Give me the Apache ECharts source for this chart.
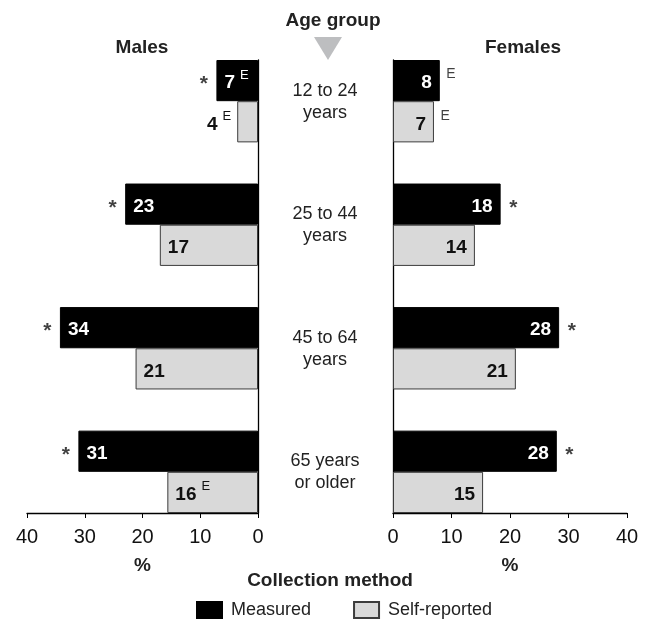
<!DOCTYPE html>
<html>
<head>
<meta charset="utf-8">
<script src="https://cdn.jsdelivr.net/npm/echarts@6/dist/echarts.min.js"></script>
<style>
html,body{margin:0;padding:0;background:#fff;}
#chart{width:648px;height:620px;}
</style>
</head>
<body>
<div id="chart"></div>
<script>
// ---- data ----
const ageGroups = ['12 to 24\nyears', '25 to 44\nyears', '45 to 64\nyears', '65 years\nor older'];
const maleMeasured = [7.2, 23, 34.3, 31.1];
const maleSelf = [3.6, 17, 21.2, 15.7];
const femaleMeasured = [8, 18.4, 28.4, 28];
const femaleSelf = [7, 14, 21, 15.4];
// significance (*) and "use with caution" (E) flags
const maleMeasuredStar = [1, 1, 1, 1];
const femaleMeasuredStar = [0, 1, 1, 1];
const maleMeasuredE = [1, 0, 0, 0];
const maleSelfE = [1, 0, 0, 1];
const femaleMeasuredE = [1, 0, 0, 0];
const femaleSelfE = [1, 0, 0, 0];
const axisMin = 0, axisMax = 40, axisInterval = 10;

const FONT = "'Liberation Sans Narrow', 'Arial Narrow', 'Liberation Sans', Arial, sans-serif";
const BLACK = '#000';
const GRAY = '#d9d9d9';
const BORDER = '#3c3c3c';

// 11 slots per side: measured, self, gap for each age group (last gap dropped)
const slots = [];
ageGroups.forEach((g, i) => { slots.push('m' + i, 's' + i); if (i < ageGroups.length - 1) slots.push('g' + i); });
const slotM = i => 3 * i, slotS = i => 3 * i + 1;

function slotData(values, slotFn, itemFn) {
  const arr = slots.map(() => '-');
  values.forEach((v, i) => { arr[slotFn(i)] = itemFn ? itemFn(v, i) : v; });
  return arr;
}
const rich = (color) => ({
  v: { fontFamily: FONT, fontSize: 19, fontWeight: 'bold', color: color, lineHeight: 24, verticalAlign: 'bottom' },
  e: { fontFamily: FONT, fontSize: 13, color: color, lineHeight: 24, verticalAlign: 'top', padding: [0, 0, 0, 5] }
});
function fmt(eFlags) {
  return p => {
    const i = Math.floor(p.dataIndex / 3);
    const n = Math.round(p.value);
    return eFlags[i] ? '{v|' + n + '}{e|E}' : '{v|' + n + '}';
  };
}

const option = {
  animation: false,
  backgroundColor: '#fff',
  textStyle: { fontFamily: FONT },
  title: [
    { text: 'Age group', left: 328, top: 6, textAlign: 'center', textStyle: { fontFamily: FONT, fontSize: 19, fontWeight: 'bold', color: '#222' } },
    { text: 'Males', left: 137, top: 33, textAlign: 'center', textStyle: { fontFamily: FONT, fontSize: 19, fontWeight: 'bold', color: '#222' } },
    { text: 'Females', left: 518, top: 33, textAlign: 'center', textStyle: { fontFamily: FONT, fontSize: 19, fontWeight: 'bold', color: '#222' } },
    { text: 'Collection method', left: 325, top: 566, textAlign: 'center', textStyle: { fontFamily: FONT, fontSize: 19, fontWeight: 'bold', color: '#222' } }
  ],
  legend: {
    data: ['Measured', 'Self-reported'],
    left: 191, top: 596,
    itemWidth: 25, itemHeight: 16, itemGap: 42,
    icon: 'rect',
    textStyle: { fontFamily: FONT, fontSize: 18, color: '#222', padding: [0, 0, 0, 4] }
  },
  graphic: [
    { type: 'polygon', shape: { points: [[314, 37], [342, 37], [328, 60]] }, style: { fill: '#bdbec0' } }
  ],
  grid: [
    { left: 27, width: 231, top: 60, height: 453 },
    { left: 393, width: 234, top: 60, height: 453 },
    { left: 325, width: 1, top: 40.3, height: 493.5 }
  ],
  xAxis: [0, 1].map(g => ({
    gridIndex: g, type: 'value', min: axisMin, max: axisMax, interval: axisInterval,
    inverse: g === 0,
    name: '%', nameLocation: 'middle', nameGap: 43,
    nameTextStyle: { fontFamily: FONT, fontSize: 19, fontWeight: 'bold', color: '#222' },
    axisLine: { show: true, onZero: false, lineStyle: { color: BLACK, width: 1.3 } },
    axisTick: { show: true, inside: false, length: 5, lineStyle: { color: BLACK } },
    axisLabel: { fontFamily: FONT, fontSize: 20, color: '#111', margin: 14 },
    splitLine: { show: false }
  })).concat([{ gridIndex: 2, type: 'value', show: false, min: 0, max: 1 }]),
  yAxis: [0, 1].map(g => ({
    gridIndex: g, type: 'category', data: slots, inverse: true,
    position: g === 0 ? 'right' : 'left',
    axisLine: { show: true, onZero: false, lineStyle: { color: BLACK, width: 1.3 } },
    axisTick: { show: false }, axisLabel: { show: false }, splitLine: { show: false }
  })).concat([{
    gridIndex: 2, type: 'category', data: ageGroups, inverse: true, position: 'left',
    axisLine: { show: false }, axisTick: { show: false },
    axisLabel: { fontFamily: FONT, fontSize: 18, color: '#222', align: 'center', margin: 0, lineHeight: 22 }
  }]),
  series: [
    {
      name: 'Measured', type: 'bar', xAxisIndex: 0, yAxisIndex: 0,
      barCategoryGap: '0%', barGap: '-100%',
      itemStyle: { color: BLACK, borderColor: BLACK, borderWidth: 1 },
      label: { show: true, position: 'insideLeft', distance: 8, formatter: fmt(maleMeasuredE), rich: rich('#fff') },
      data: slotData(maleMeasured, slotM)
    },
    {
      name: 'Self-reported', type: 'bar', xAxisIndex: 0, yAxisIndex: 0,
      barCategoryGap: '0%', barGap: '-100%',
      itemStyle: { color: GRAY, borderColor: BORDER, borderWidth: 1 },
      label: { show: true, position: 'insideLeft', distance: 8, formatter: fmt(maleSelfE), rich: rich('#111') },
      data: slotData(maleSelf, slotS, (v) => v < 6 ? { value: v, label: { position: 'left', distance: 6 } } : v)
    },
    {
      name: 'Measured', type: 'bar', xAxisIndex: 1, yAxisIndex: 1,
      barCategoryGap: '0%', barGap: '-100%',
      itemStyle: { color: BLACK, borderColor: BLACK, borderWidth: 1 },
      label: { show: true, position: 'insideRight', distance: 8, formatter: fmt([0, 0, 0, 0]), rich: rich('#fff') },
      data: slotData(femaleMeasured, slotM)
    },
    {
      name: 'Self-reported', type: 'bar', xAxisIndex: 1, yAxisIndex: 1,
      barCategoryGap: '0%', barGap: '-100%',
      itemStyle: { color: GRAY, borderColor: BORDER, borderWidth: 1 },
      label: { show: true, position: 'insideRight', distance: 8, formatter: fmt([0, 0, 0, 0]), rich: rich('#111') },
      data: slotData(femaleSelf, slotS)
    },
    // annotations: significance stars
    {
      type: 'scatter', xAxisIndex: 0, yAxisIndex: 0, symbolSize: 1, silent: true,
      itemStyle: { color: 'rgba(0,0,0,0)' },
      label: { show: true, position: 'left', distance: 8, offset: [0, 4], formatter: '*', fontFamily: FONT, fontSize: 21, fontWeight: 'bold', color: '#111' },
      data: maleMeasured.map((v, i) => maleMeasuredStar[i] ? [v, slotM(i)] : null).filter(d => d)
    },
    {
      type: 'scatter', xAxisIndex: 1, yAxisIndex: 1, symbolSize: 1, silent: true,
      itemStyle: { color: 'rgba(0,0,0,0)' },
      label: { show: true, position: 'right', distance: 8, offset: [0, 4], formatter: '*', fontFamily: FONT, fontSize: 21, fontWeight: 'bold', color: '#111' },
      data: femaleMeasured.map((v, i) => femaleMeasuredStar[i] ? [v, slotM(i)] : null).filter(d => d)
    },
    // annotations: E flags outside female bars
    {
      type: 'scatter', xAxisIndex: 1, yAxisIndex: 1, symbolSize: 1, silent: true,
      itemStyle: { color: 'rgba(0,0,0,0)' },
      label: { show: true, position: 'right', distance: 6, offset: [0, -6], formatter: 'E', fontFamily: FONT, fontSize: 14, color: '#111' },
      data: femaleMeasured.map((v, i) => femaleMeasuredE[i] ? [v, slotM(i)] : null).filter(d => d)
        .concat(femaleSelf.map((v, i) => femaleSelfE[i] ? [v, slotS(i)] : null).filter(d => d))
    }
  ]
};

const chart = echarts.init(document.getElementById('chart'), null, { renderer: 'canvas' });
chart.setOption(option);
</script>
</body>
</html>
